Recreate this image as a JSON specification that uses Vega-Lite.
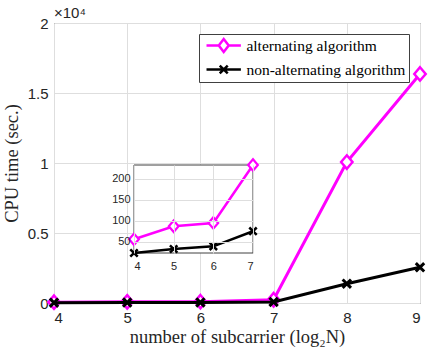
{
  "$schema": "https://vega.github.io/schema/vega-lite/v6.json",
  "width": 366,
  "height": 280,
  "autosize": "none",
  "padding": {"left": 54, "top": 23, "right": 9, "bottom": 49},
  "background": "white",
  "config": {
    "view": {"stroke": "#404040", "strokeWidth": 1},
    "axis": {
      "domain": false,
      "ticks": false,
      "grid": true,
      "gridColor": "#dedede",
      "gridWidth": 1,
      "labelFont": "Liberation Sans",
      "labelColor": "#262626",
      "titleFont": "Liberation Serif",
      "titleFontWeight": "normal",
      "titleColor": "#262626"
    },
    "legend": {
      "strokeColor": "#404040",
      "fillColor": "white",
      "padding": 3,
      "cornerRadius": 0,
      "labelFont": "Liberation Serif",
      "labelFontSize": 15.5,
      "labelColor": "black",
      "symbolSize": 196,
      "symbolStrokeWidth": 2.5,
      "rowPadding": 2,
      "labelOffset": 27.4
    }
  },
  "title": {
    "text": "×10⁴",
    "anchor": "start",
    "frame": "group",
    "offset": -5,
    "font": "Liberation Sans",
    "fontSize": 15,
    "fontWeight": "normal",
    "color": "#262626"
  },
  "datasets": {
    "cpu": [
      {"N": 4, "series": "alternating algorithm", "time": 55.7},
      {"N": 5, "series": "alternating algorithm", "time": 86.8},
      {"N": 6, "series": "alternating algorithm", "time": 94.7},
      {"N": 7, "series": "alternating algorithm", "time": 233},
      {"N": 8, "series": "alternating algorithm", "time": 10070},
      {"N": 9, "series": "alternating algorithm", "time": 16360},
      {"N": 4, "series": "non-alternating algorithm", "time": 23},
      {"N": 5, "series": "non-alternating algorithm", "time": 32.5},
      {"N": 6, "series": "non-alternating algorithm", "time": 39},
      {"N": 7, "series": "non-alternating algorithm", "time": 75},
      {"N": 8, "series": "non-alternating algorithm", "time": 1380},
      {"N": 9, "series": "non-alternating algorithm", "time": 2550}
    ]
  },
  "layer": [
    {
      "data": {"name": "cpu"},
      "encoding": {
        "x": {
          "field": "N", "type": "quantitative",
          "scale": {"domain": [4, 9], "nice": false, "zero": false},
          "axis": {"values": [4, 5, 6, 7, 8, 9], "title": "number of subcarrier (log₂N)", "labelFontSize": 15, "labelPadding": 7, "titleFontSize": 18.5, "titlePadding": 2}
        },
        "y": {
          "field": "time", "type": "quantitative",
          "scale": {"domain": [0, 20000], "nice": false},
          "axis": {"values": [0, 5000, 10000, 15000, 20000], "labelExpr": "datum.value / 10000", "title": "CPU time (sec.)", "labelFontSize": 15, "labelPadding": 6, "titleFontSize": 18.5, "titlePadding": 6}
        },
        "color": {
          "field": "series", "type": "nominal",
          "scale": {"domain": ["alternating algorithm", "non-alternating algorithm"], "range": ["#ff00ff", "#000000"]},
          "legend": {
            "title": null,
            "orient": "top-right",
            "offset": 11,
            "symbolType": "stroke",
            "encode": {
              "symbols": {
                "update": {
                  "shape": {"signal": "datum.value == 'alternating algorithm' ? 'M-0.57,0H1.18M2.6,0H4.34M1.18,0L1.89,-0.93L2.6,0L1.89,0.93Z' : 'M-0.57,0H4.34M1.32,-0.57L2.46,0.57M1.32,0.57L2.46,-0.57'"},
                  "fill": {"value": "white"},
                  "strokeWidth": {"value": 2.5},
                  "opacity": {"value": 1}
                }
              }
            }
          }
        }
      },
      "layer": [
        {"transform": [{"filter": "datum.series == 'alternating algorithm'"}], "mark": {"type": "line", "strokeWidth": 3}},
        {"transform": [{"filter": "datum.series == 'alternating algorithm'"}], "mark": {"type": "point", "shape": "M0,-1L0.85,0L0,1L-0.85,0Z", "filled": false, "fill": "white", "strokeWidth": 2.5, "opacity": 1, "size": 180}},
        {"transform": [{"filter": "datum.series == 'non-alternating algorithm'"}], "mark": {"type": "line", "strokeWidth": 3}},
        {"transform": [{"filter": "datum.series == 'non-alternating algorithm'"}], "mark": {"type": "point", "shape": "M-1,-1L1,1M-1,1L1,-1", "filled": false, "strokeWidth": 3, "opacity": 1, "size": 70}}
      ]
    },
    {
      "layer": [
        {
          "data": {"values": [{}]},
          "mark": {"type": "rect", "fill": "white", "stroke": "#404040", "strokeWidth": 1},
          "encoding": {
            "x": {"datum": 4, "type": "quantitative"},
            "x2": {"datum": 7},
            "y": {"datum": 23, "type": "quantitative"},
            "y2": {"datum": 233}
          }
        },
        {
          "data": {"name": "cpu"},
          "transform": [{"filter": "datum.N <= 7"}],
          "encoding": {
            "x": {
              "field": "N", "type": "quantitative",
              "scale": {"domain": [4, 7], "nice": false, "zero": false, "range": [80, 199]},
              "axis": {"orient": "top", "values": [4, 5, 6, 7], "format": "d", "title": null, "labelFontSize": 11, "labelBaseline": "middle", "labelPadding": -243.7, "zindex": 1, "grid": true}
            },
            "y": {
              "field": "time", "type": "quantitative",
              "scale": {"domain": [23, 233], "nice": false, "zero": false, "range": [230, 142]},
              "axis": {"orient": "left", "values": [50, 100, 150, 200], "format": "d", "title": null, "labelFontSize": 11, "labelPadding": -76, "zindex": 1, "grid": true}
            },
            "color": {"field": "series", "type": "nominal", "legend": null}
          },
          "layer": [
            {"transform": [{"filter": "datum.series == 'alternating algorithm'"}], "mark": {"type": "line", "strokeWidth": 2.5}},
            {"transform": [{"filter": "datum.series == 'alternating algorithm'"}], "mark": {"type": "point", "shape": "M0,-1L0.85,0L0,1L-0.85,0Z", "filled": false, "fill": "white", "strokeWidth": 2.2, "opacity": 1, "size": 130}},
            {"transform": [{"filter": "datum.series == 'non-alternating algorithm'"}], "mark": {"type": "line", "strokeWidth": 2.5}},
            {"transform": [{"filter": "datum.series == 'non-alternating algorithm'"}], "mark": {"type": "point", "shape": "M-1,-1L1,1M-1,1L1,-1", "filled": false, "strokeWidth": 2.5, "opacity": 1, "size": 55}}
          ]
        }
      ]
    }
  ],
  "resolve": {"scale": {"x": "independent", "y": "independent"}, "axis": {"x": "independent", "y": "independent"}}
}
